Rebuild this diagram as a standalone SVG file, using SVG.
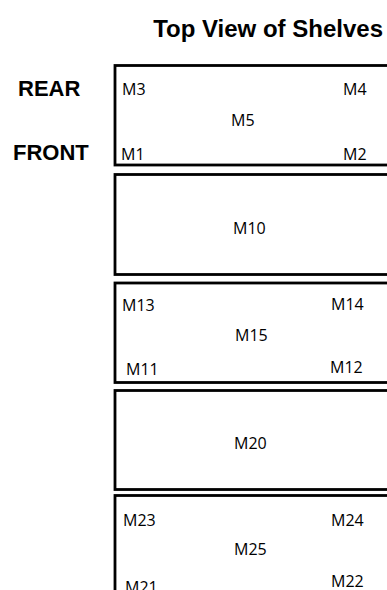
<svg xmlns="http://www.w3.org/2000/svg" width="387" height="590" viewBox="0 0 387 590">
<style>
.shelf{fill:#fff;stroke:#000;stroke-width:2.8}
.lbl{font-family:"Open Sans","Liberation Sans",Arial,sans-serif;font-size:16px;fill:#000}
.side{font-family:"Liberation Sans",Arial,sans-serif;font-size:22px;font-weight:bold;fill:#000}
.title{font-family:"Liberation Sans",Arial,sans-serif;font-size:24px;font-weight:bold;fill:#000}
</style>
<rect width="387" height="590" fill="#fff"/>
<text class="title" x="383" y="37" text-anchor="end">Top View of Shelves</text>
<text class="side" x="18" y="96">REAR</text>
<text class="side" x="13" y="160">FRONT</text>
<g id="shelf1">
<rect class="shelf" x="115" y="65.5" width="300" height="99.5"/>
<text class="lbl" x="122" y="95">M3</text>
<text class="lbl" x="343" y="95">M4</text>
<text class="lbl" x="231" y="126">M5</text>
<text class="lbl" x="121" y="160">M1</text>
<text class="lbl" x="343" y="160">M2</text>
</g>
<g id="shelf2">
<rect class="shelf" x="115" y="174.5" width="300" height="100"/>
<text class="lbl" x="233" y="234">M10</text>
</g>
<g id="shelf3">
<rect class="shelf" x="115" y="283" width="300" height="99.5"/>
<text class="lbl" x="122" y="311">M13</text>
<text class="lbl" x="331" y="310">M14</text>
<text class="lbl" x="235" y="340.5">M15</text>
<text class="lbl" x="126" y="375">M11</text>
<text class="lbl" x="330" y="373">M12</text>
</g>
<g id="shelf4">
<rect class="shelf" x="115" y="390.5" width="300" height="99"/>
<text class="lbl" x="234" y="449">M20</text>
</g>
<g id="shelf5">
<rect class="shelf" x="115" y="495.5" width="300" height="120"/>
<text class="lbl" x="123" y="526">M23</text>
<text class="lbl" x="331" y="526">M24</text>
<text class="lbl" x="234" y="555">M25</text>
<text class="lbl" x="125" y="593">M21</text>
<text class="lbl" x="331" y="587">M22</text>
</g>
<g id="connectors"></g>
</svg>
